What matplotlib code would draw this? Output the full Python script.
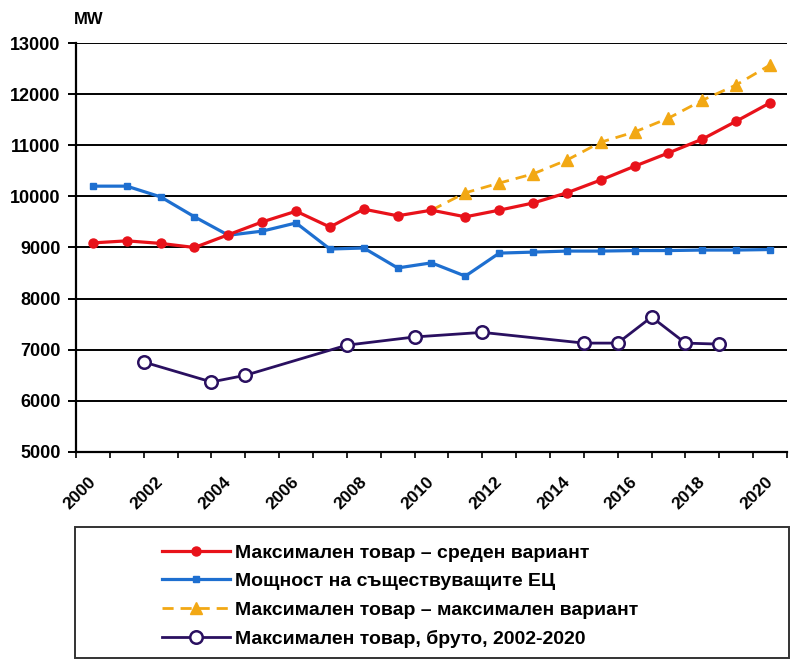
import matplotlib
matplotlib.use('Agg')
import matplotlib.pyplot as plt
import matplotlib.transforms as mtransforms
from matplotlib.patches import Rectangle
import numpy as np

# --- Data ---
years = list(range(2000, 2021))
load_mid = [9090, 9130, 9080, 9000, 9250, 9500, 9710, 9400, 9750, 9620, 9730,
            9600, 9730, 9870, 10070, 10320, 10590, 10850, 11120, 11470, 11830]
capacity = [10200, 10200, 9990, 9600, 9240, 9320, 9480, 8970, 8990, 8600, 8700,
            8440, 8890, 8910, 8930, 8930, 8940, 8940, 8950, 8950, 8960]
max_years = list(range(2010, 2021))
load_max = [9730, 10070, 10260, 10440, 10710, 11060, 11260, 11530, 11880, 12180, 12570]
gross_years = [2002, 2004, 2005, 2008, 2010, 2012, 2015, 2016, 2017, 2018, 2019]
load_gross = [6760, 6370, 6500, 7090, 7250, 7340, 7130, 7130, 7640, 7130, 7110]

labels = ['Максимален товар – среден вариант',
          'Мощност на съществуващите ЕЦ',
          'Максимален товар – максимален вариант',
          'Максимален товар, бруто, 2002-2020']

plt.rcParams['font.family'] = ['Liberation Sans', 'DejaVu Sans']
plt.rcParams['font.weight'] = 'bold'

fig = plt.figure(figsize=(7.91, 6.60), dpi=100)
ax = fig.add_axes([76 / 791, 1 - 452 / 660, (787 - 76) / 791, (452 - 43) / 660])

# gross series sits on the category boundaries in the original
gx = np.array(gross_years) - 0.5

ax.plot(years, load_mid, color='#e8121a', lw=2.3, marker='o', ms=6.5, label=labels[0], zorder=4)
ax.plot(years, capacity, color='#1e6fd0', lw=2.3, marker='s', ms=5, label=labels[1], zorder=3)
ax.plot(max_years, load_max, color='#f2a814', lw=2.0, ls=(0, (4, 2.5)), marker='^', ms=8,
        markevery=slice(1, None), label=labels[2], zorder=3)
ax.plot(gx, load_gross, color='#2a1060', lw=2.0, marker='o', ms=9, mfc='white', mew=1.8,
        label=labels[3], zorder=5)

ax.set_xlim(1999.5, 2020.5)
ax.set_ylim(5000, 13000)
ax.set_yticks(range(5000, 13001, 1000))
ax.set_xticks(range(2000, 2021, 2))
ax.set_xticks(np.arange(1999.5, 2021, 1), minor=True)
ax.grid(axis='y', color='black', lw=1.4)
ax.set_axisbelow(True)

for s in ['top', 'right']:
    ax.spines[s].set_visible(False)
for s in ['left', 'bottom']:
    ax.spines[s].set_linewidth(1.6)

ax.tick_params(axis='y', length=6, width=1.4, pad=5, labelsize=13)
ax.tick_params(axis='x', which='major', length=0, pad=16, labelsize=12.5)
ax.tick_params(axis='x', which='minor', length=4, width=1.2)
shift = mtransforms.ScaledTranslation(-5 / 100, 0, fig.dpi_scale_trans)
for t in ax.get_xticklabels():
    t.set_rotation(45)
    t.set_ha('right')
    t.set_va('top')
    t.set_rotation_mode('anchor')
    t.set_transform(t.get_transform() + shift)
for t in ax.get_yticklabels() + ax.get_xticklabels():
    t.set_fontweight('bold')

fig.text(74 / 791, 1 - 20 / 660, 'MW', fontsize=12, fontweight='bold', va='center', ha='left')

# legend box
fig.patches.append(Rectangle((75 / 791, 1 - 658 / 660), (789 - 75) / 791, (658 - 527) / 660,
                             transform=fig.transFigure, fill=False, edgecolor='#333333',
                             lw=1.4))
leg = fig.legend(loc='upper left', bbox_to_anchor=(162 / 791, 1 - 544 / 660), frameon=False,
                 borderpad=0, borderaxespad=0, handlelength=3.5, handletextpad=0.25,
                 labelspacing=0.56, prop={'weight': 'bold', 'size': 14})

fig.savefig('out.png', dpi=100)
